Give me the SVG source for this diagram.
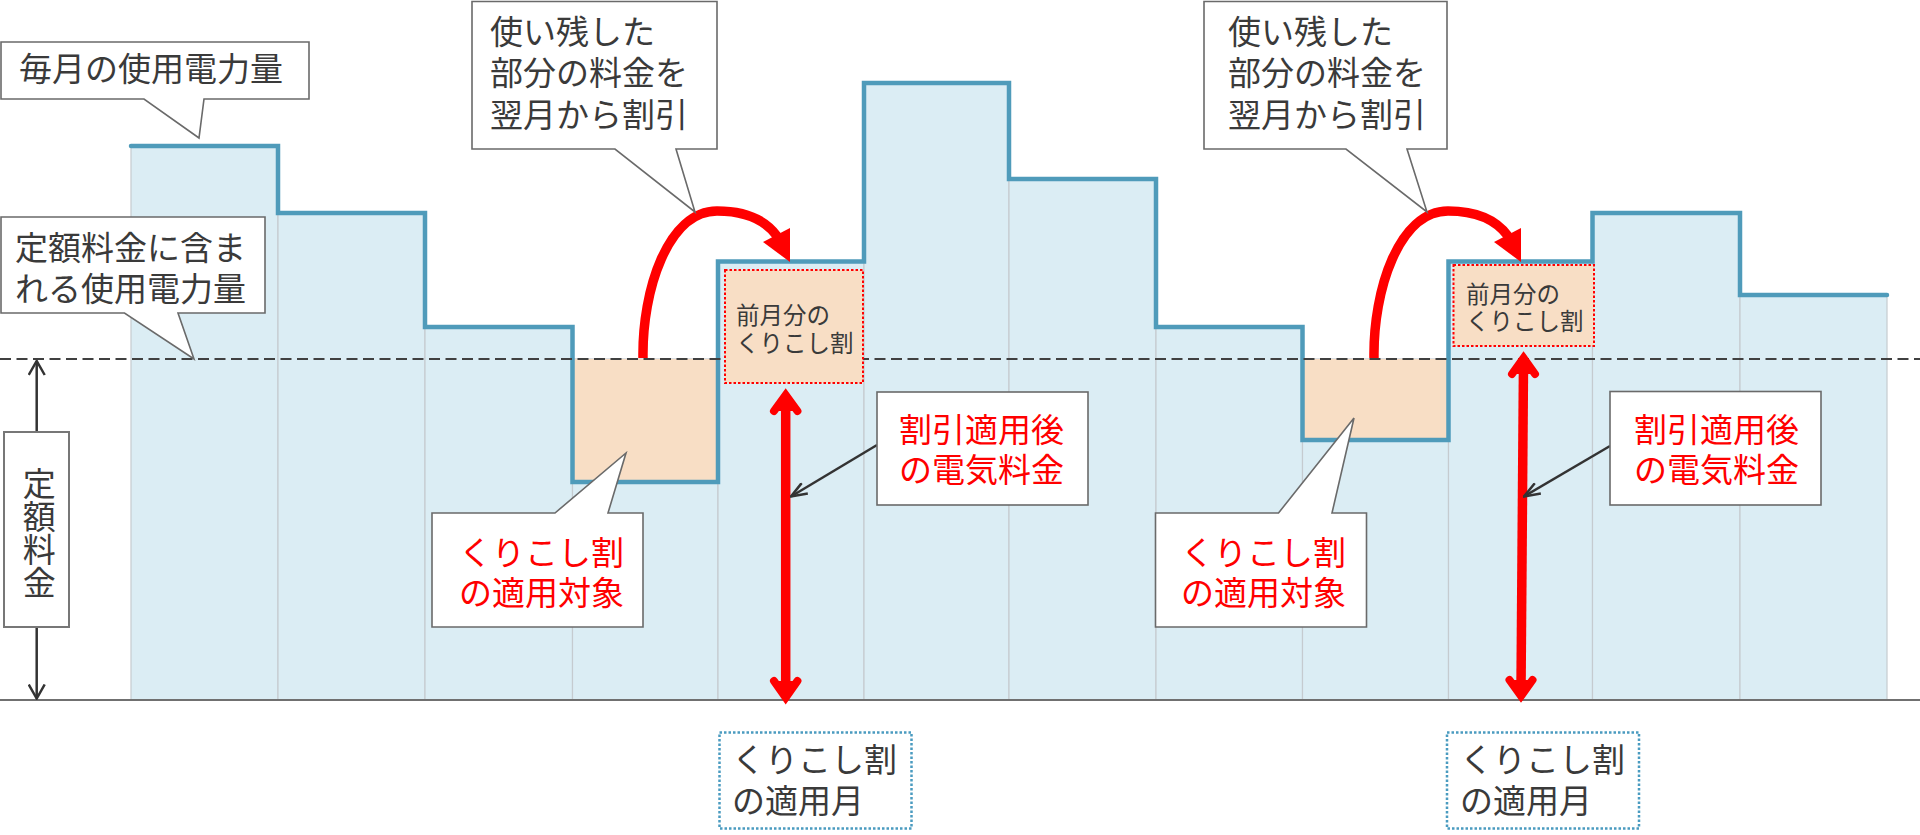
<svg xmlns="http://www.w3.org/2000/svg" width="1920" height="835" viewBox="0 0 1920 835">
<defs>
<style>
.col{fill:#DBEDF4;stroke:#C5CBCF;stroke-width:1.2}
.over{fill:#F8DEC5}
.step{fill:none;stroke:#4F9BBA;stroke-width:4.5;stroke-linecap:round}
.dash{stroke:#404040;stroke-width:2;stroke-dasharray:11 5.5;fill:none}
.base{stroke:#707070;stroke-width:2;fill:none}
.callout{fill:#fff;stroke:#6a6a6a;stroke-width:1.6}
.t{font-family:"Liberation Sans","Noto Sans CJK JP","Noto Sans CJK SC",sans-serif;font-size:33px;fill:#3a3a3a}
.red{fill:#FF0000}
.small{font-size:23.5px}
.rbox{fill:#F8DEC5;stroke:#FF0000;stroke-width:2;stroke-dasharray:2.5 2}
.bbox{fill:#fff;stroke:#4A9BC0;stroke-width:2.5;stroke-dasharray:2.5 2}
.redline{fill:none;stroke:#FF0000;stroke-width:9.5}
.redhead{fill:#FF0000;stroke:#FF0000;stroke-width:8;stroke-linejoin:miter;stroke-linecap:round}
.ptr{stroke:#333;stroke-width:2.5;fill:none}
</style>
<marker id="open" viewBox="0 0 18 14" refX="17" refY="7" markerWidth="18" markerHeight="14" markerUnits="userSpaceOnUse" orient="auto">
<path d="M1,1 L17,7 L1,13" fill="none" stroke="#333" stroke-width="2.5"/>
</marker>
<marker id="vhead" viewBox="0 0 16 18" refX="15" refY="9" markerWidth="16" markerHeight="18" markerUnits="userSpaceOnUse" orient="auto">
<path d="M1,1 L15,9 L1,17" fill="none" stroke="#333" stroke-width="2.5"/>
</marker>
</defs>
<rect width="1920" height="835" fill="#fff"/>

<g id="chart">
<rect class="col" x="131" y="146" width="147" height="554"/>
<rect class="col" x="278" y="213" width="147" height="487"/>
<rect class="col" x="425" y="327" width="147.5" height="373"/>
<rect class="col" x="572.5" y="359" width="145.5" height="341"/>
<rect class="col" x="718" y="261.5" width="146" height="438.5"/>
<rect class="col" x="864" y="83" width="145" height="617"/>
<rect class="col" x="1009" y="179" width="147" height="521"/>
<rect class="col" x="1156" y="327" width="146.5" height="373"/>
<rect class="col" x="1302.5" y="359" width="146" height="341"/>
<rect class="col" x="1448.5" y="261.5" width="144" height="438.5"/>
<rect class="col" x="1592.5" y="213" width="147.5" height="487"/>
<rect class="col" x="1740" y="295" width="147" height="405"/>
<rect class="over" x="572.5" y="359" width="145.5" height="123"/>
<rect class="over" x="1302.5" y="359" width="146" height="81"/>
<path class="step" d="M131,146 H278 V213 H425 V327 H572.5 V482 H718 V261.5 H864 V83 H1009 V179 H1156 V327 H1302.5 V440 H1448.5 V261.5 H1592.5 V213 H1740 V295 H1887"/>
<line class="dash" x1="0" y1="359" x2="1920" y2="359"/>
<line class="base" x1="0" y1="700" x2="1920" y2="700"/>
</g>

<g id="node-kurikoshi-prev-1">
<rect class="rbox" x="725" y="270" width="138" height="113"/>
<text class="t small" x="736" y="323.5">前月分の</text>
<text class="t small" x="736" y="351.5">くりこし割</text>
</g>
<g id="node-kurikoshi-prev-2">
<rect class="rbox" x="1453.5" y="265" width="140.5" height="81"/>
<text class="t small" x="1466" y="302.5">前月分の</text>
<text class="t small" x="1466" y="330">くりこし割</text>
</g>

<g id="connectors">
<path class="redline" d="M643,358 C642,290 668,211 717,211 C748,211 766,221 777,236"/>
<polygon class="red" points="763,242 790,228 790,262"/>
<path class="redline" d="M1374,358 C1373,290 1399,211 1448,211 C1479,211 1497,221 1508,236"/>
<polygon class="red" points="1494,242 1521,228 1521,262"/>
<line class="redline" x1="785.7" y1="400" x2="785.7" y2="690"/>
<polyline class="redhead" points="774,411 785.7,395 797.4,411"/>
<polyline class="redhead" points="774,681 785.7,697.5 797.4,681"/>
<line class="redline" x1="1523.5" y1="364" x2="1521" y2="690"/>
<polyline class="redhead" points="1512,374 1523.5,358 1535,374"/>
<polyline class="redhead" points="1509.5,680 1521,696 1532.5,680"/>
<line class="ptr" x1="877" y1="445" x2="791" y2="496.5" marker-end="url(#open)"/>
<line class="ptr" x1="1610" y1="446" x2="1524" y2="496.5" marker-end="url(#open)"/>
<line class="ptr" x1="36.7" y1="432" x2="36.7" y2="361" marker-end="url(#vhead)"/>
<line class="ptr" x1="36.7" y1="627" x2="36.7" y2="698.5" marker-end="url(#vhead)"/>
</g>

<g id="node-monthly">
<path class="callout" d="M1,42 H309 V99 H204 L199,138 L144,99 H1 Z"/>
<text class="t" x="19" y="80.5">毎月の使用電力量</text>
</g>
<g id="node-included">
<path class="callout" d="M1,217 H265 V313 H178 L194,359 L124.5,313 H1 Z"/>
<text class="t" x="15" y="259.5">定額料金に含ま</text>
<text class="t" x="15" y="300.5">れる使用電力量</text>
</g>
<g id="node-fixed">
<rect x="4" y="432" width="65" height="195" fill="#fff" stroke="#777" stroke-width="2"/>
<text class="t" x="36.7" y="467" writing-mode="vertical-rl">定額料金</text>
</g>
<g id="node-carry-1">
<path class="callout" d="M472,1.5 H717 V149 H676 L695,212 L615,149 H472 Z"/>
<text class="t" x="490" y="43.5">使い残した</text>
<text class="t" x="490" y="85">部分の料金を</text>
<text class="t" x="490" y="126.5">翌月から割引</text>
</g>
<g id="node-carry-2">
<path class="callout" d="M1204,1.5 H1447 V149 H1407 L1427,212 L1346,149 H1204 Z"/>
<text class="t" x="1228" y="43.5">使い残した</text>
<text class="t" x="1228" y="85">部分の料金を</text>
<text class="t" x="1228" y="126.5">翌月から割引</text>
</g>
<g id="node-target-1">
<path class="callout" d="M432,513 H555 L626,453 L608,513 H643 V627 H432 Z"/>
<text class="t red" x="459" y="564.5">くりこし割</text>
<text class="t red" x="459" y="604.5">の適用対象</text>
</g>
<g id="node-target-2">
<path class="callout" d="M1155.5,513 H1278.5 L1354,418 L1332,513 H1366.5 V627 H1155.5 Z"/>
<text class="t red" x="1181" y="564.5">くりこし割</text>
<text class="t red" x="1181" y="604.5">の適用対象</text>
</g>
<g id="node-after-1">
<rect class="callout" x="877" y="392" width="211" height="113"/>
<text class="t red" x="899" y="442">割引適用後</text>
<text class="t red" x="899" y="482">の電気料金</text>
</g>
<g id="node-after-2">
<rect class="callout" x="1610" y="391.5" width="211" height="113.5"/>
<text class="t red" x="1634" y="442">割引適用後</text>
<text class="t red" x="1634" y="482">の電気料金</text>
</g>
<g id="node-month-1">
<rect class="bbox" x="719.5" y="732.5" width="192" height="96"/>
<text class="t" x="732" y="772">くりこし割</text>
<text class="t" x="732" y="812.5">の適用月</text>
</g>
<g id="node-month-2">
<rect class="bbox" x="1447" y="732.5" width="192" height="96"/>
<text class="t" x="1460" y="772">くりこし割</text>
<text class="t" x="1460" y="812.5">の適用月</text>
</g>
</svg>
